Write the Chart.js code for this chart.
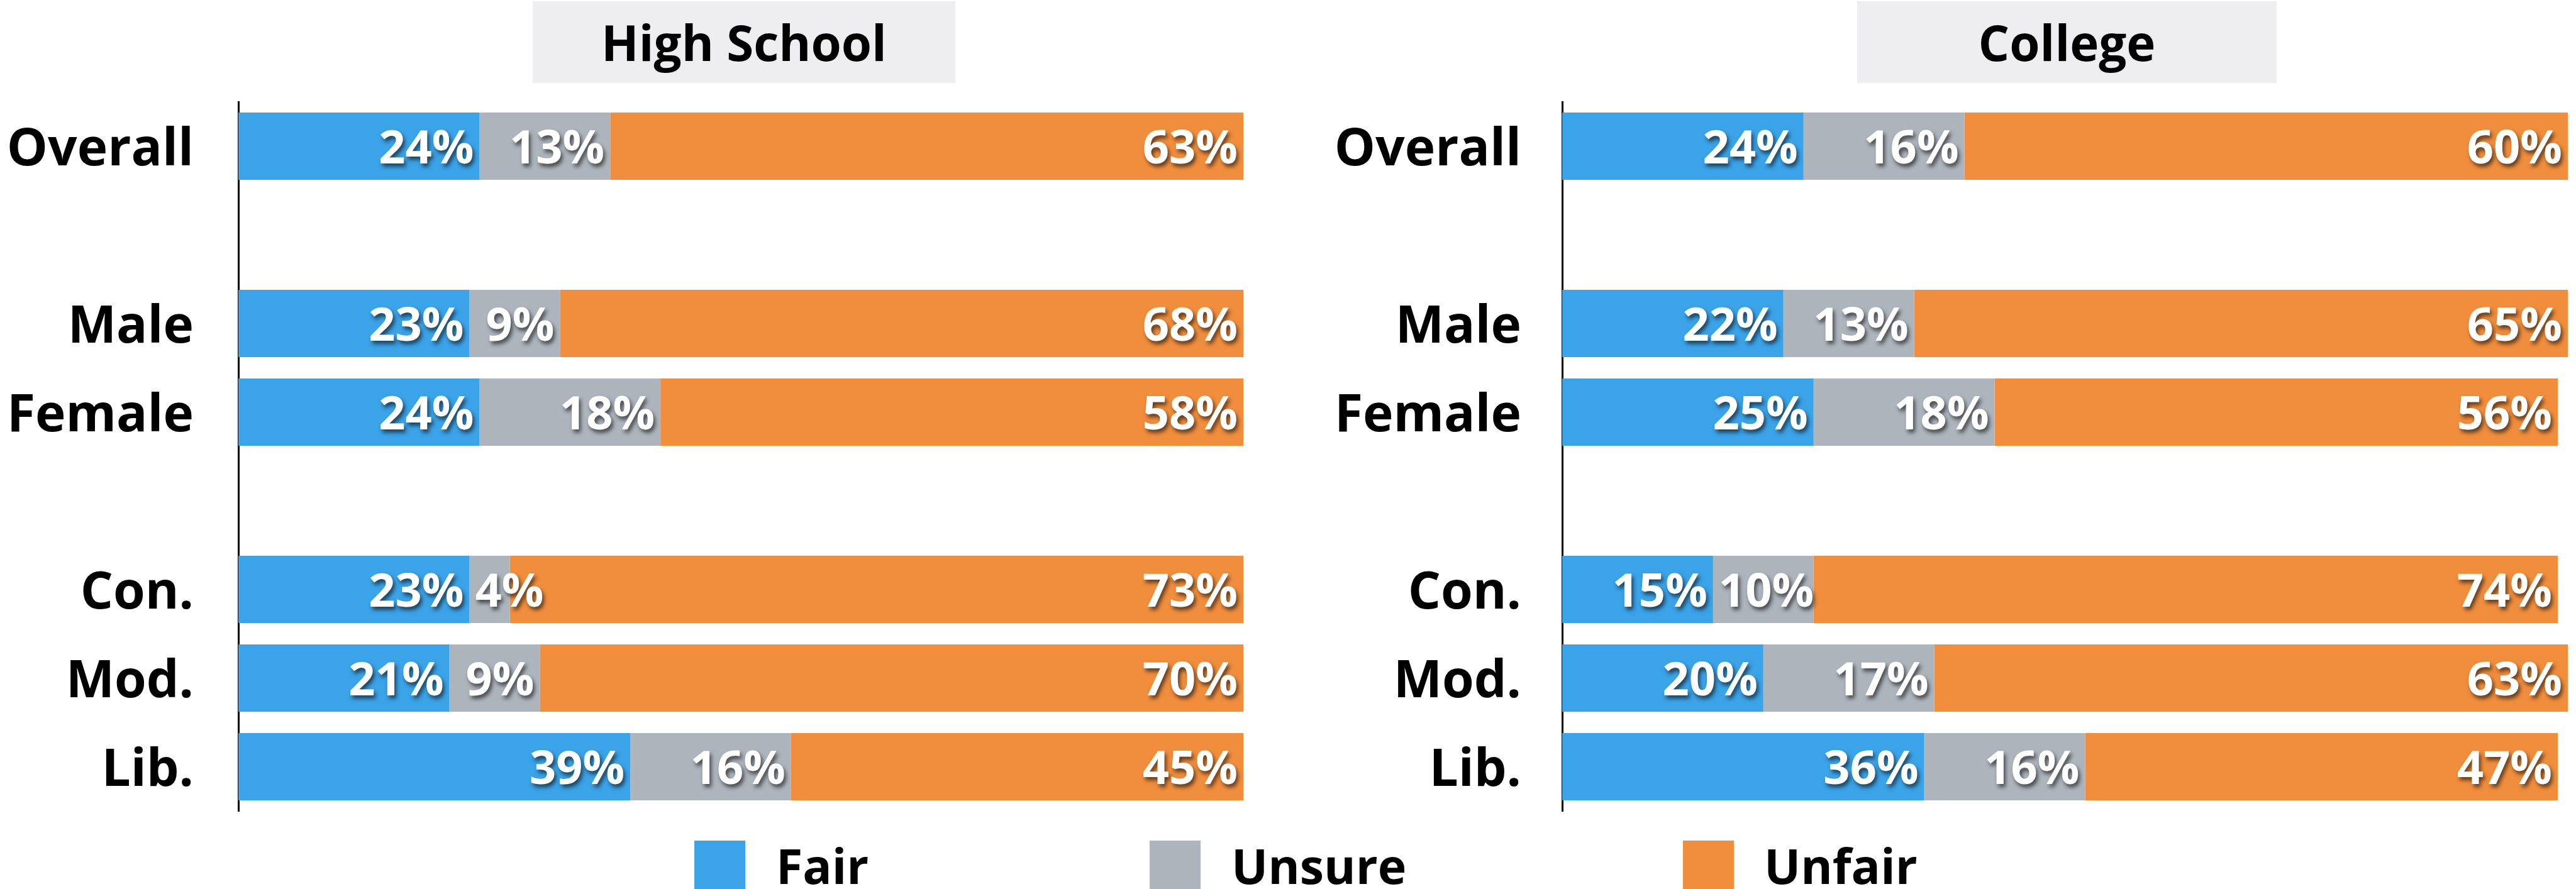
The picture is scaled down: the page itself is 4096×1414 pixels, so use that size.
<!DOCTYPE html>
<html>
<head>
<meta charset="utf-8">
<script src="https://cdn.jsdelivr.net/npm/chart.js@4.4.1/dist/chart.umd.min.js"></script>
<style>
  html, body { margin: 0; padding: 0; background: #fff; width: 4096px; height: 1414px; overflow: hidden; }
  .panel { position: absolute; top: 0; height: 1414px; }
  .title {
    position: absolute; top: 2px; height: 130px; background: #eeeef0;
    font: 700 78px 'Open Sans', sans-serif; color: #000;
    display: flex; align-items: center; justify-content: center;
  }
  .legend-box { position: absolute; top: 1337px; width: 81px; height: 100px; }
  .legend-text { position: absolute; top: 1327px; font: 700 77px 'Open Sans', sans-serif; color: #000; line-height: 100px; }
</style>
</head>
<body>
<div class="title" style="left:847px;width:672px;">High School</div>
<div class="title" style="left:2953px;width:667px;">College</div>
<div class="panel" style="left:0;width:1990px;"><canvas id="chartHS"></canvas></div>
<div class="panel" style="left:2100px;width:1996px;"><canvas id="chartCol"></canvas></div>
<div id="legend"></div>
<script>
// rows, with empty slots separating the groups
const rows = ['Overall', '', 'Male', 'Female', '', 'Con.', 'Mod.', 'Lib.'];
const seriesNames = ['Fair', 'Unsure', 'Unfair'];
const seriesColors = ['#3ba3e8', '#adb4bc', '#f18e3d'];

const hsFair   = [24, null, 23, 24, null, 23, 21, 39];
const hsUnsure = [13, null,  9, 18, null,  4,  9, 16];
const hsUnfair = [63, null, 68, 58, null, 73, 70, 45];

const colFair   = [24, null, 22, 25, null, 15, 20, 36];
const colUnsure = [16, null, 13, 18, null, 10, 17, 16];
const colUnfair = [60, null, 65, 56, null, 74, 63, 47];

// percentage labels inside each segment, with a dark drop shadow
const segmentLabels = {
  id: 'segmentLabels',
  afterDatasetsDraw(chart) {
    const ctx = chart.ctx;
    ctx.save();
    ctx.font = '700 74px "Open Sans", sans-serif';
    ctx.fillStyle = '#fff';
    ctx.textBaseline = 'middle';
    ctx.shadowColor = 'rgba(0,0,0,0.6)';
    ctx.shadowOffsetX = 3;
    ctx.shadowOffsetY = 5;
    ctx.shadowBlur = 6;
    const pad = 9;
    chart.data.datasets.forEach((ds, i) => {
      const meta = chart.getDatasetMeta(i);
      meta.data.forEach((bar, j) => {
        const v = ds.data[j];
        if (v == null) return;
        const txt = v + '%';
        const w = ctx.measureText(txt).width;
        const left = Math.min(bar.base, bar.x);
        const right = Math.max(bar.base, bar.x);
        if (w + pad * 2 > right - left) {
          ctx.textAlign = 'left';
          ctx.fillText(txt, left + pad, bar.y + 6);
        } else {
          ctx.textAlign = 'right';
          ctx.fillText(txt, right - pad, bar.y + 6);
        }
      });
    });
    ctx.restore();
  }
};

function makeChart(id, values, axisWidth, labelPad) {
  const ctx = document.getElementById(id).getContext('2d');
  return new Chart(ctx, {
    type: 'bar',
    data: {
      labels: rows,
      datasets: values.map((d, i) => ({
        label: seriesNames[i],
        data: d,
        backgroundColor: seriesColors[i],
        borderWidth: 0,
        categoryPercentage: 1,
        barPercentage: 0.76,
      })),
    },
    options: {
      indexAxis: 'y',
      responsive: true,
      maintainAspectRatio: false,
      animation: false,
      layout: { padding: { top: 162, bottom: 124, left: 0, right: 13 } },
      plugins: { legend: { display: false }, tooltip: { enabled: false } },
      scales: {
        x: { stacked: true, min: 0, max: 100, display: false },
        y: {
          stacked: true,
          grid: { display: false, drawTicks: false },
          border: { display: true, color: '#000', width: 3 },
          ticks: {
            color: '#000',
            padding: labelPad,
            labelOffset: 7,
            font: { family: 'Open Sans', weight: '700', size: 82 },
          },
          afterFit(scale) { scale.width = axisWidth; },
        },
      },
    },
    plugins: [segmentLabels],
  });
}

makeChart('chartHS', [hsFair, hsUnsure, hsUnfair], 379, 71);
makeChart('chartCol', [colFair, colUnsure, colUnfair], 384, 65);

// legend along the bottom
const legendBoxX = [1104, 1828, 2676];
const legendTextX = [1234, 1958, 2805];
const legend = document.getElementById('legend');
seriesNames.forEach((name, i) => {
  const box = document.createElement('div');
  box.className = 'legend-box';
  box.style.left = legendBoxX[i] + 'px';
  box.style.background = seriesColors[i];
  legend.appendChild(box);
  const t = document.createElement('div');
  t.className = 'legend-text';
  t.style.left = legendTextX[i] + 'px';
  t.textContent = name;
  legend.appendChild(t);
});
</script>
</body>
</html>
